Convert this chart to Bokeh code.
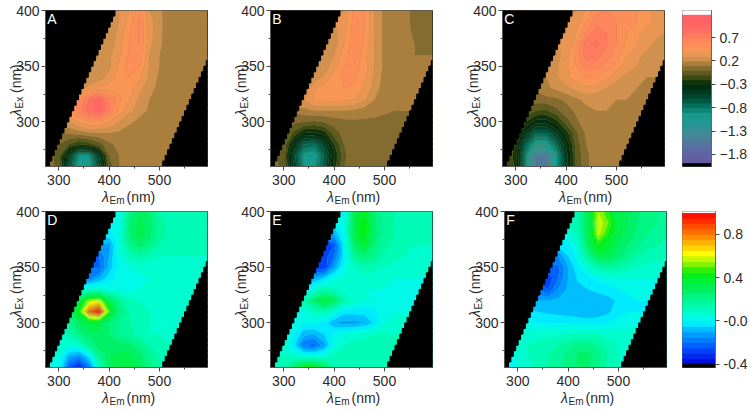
import numpy as np
from bokeh.embed import file_html
from bokeh.layouts import column, row
from bokeh.models import FixedTicker, Label
from bokeh.plotting import figure
from bokeh.resources import INLINE

em = [280, 300, 320, 340, 360, 380, 400, 420, 440, 460, 480, 500, 520, 540, 560, 580, 600]
ex = [400, 390, 380, 370, 360, 350, 340, 330, 320, 310, 300, 290, 280, 270, 260]

panel_a = [
    [.2, .2, .2, .2, .2, .2, .25, .3, .4, .55, .3, .22, .15, .12, .12, .12, .12],
    [.2, .2, .2, .2, .2, .2, .25, .3, .45, .62, .35, .22, .15, .12, .12, .12, .12],
    [.2, .2, .2, .2, .2, .2, .25, .32, .5, .62, .35, .22, .15, .12, .12, .12, .12],
    [.2, .2, .2, .2, .2, .2, .25, .35, .5, .6, .33, .22, .14, .12, .12, .12, .12],
    [.2, .2, .2, .2, .2, .2, .28, .38, .52, .56, .3, .2, .13, .12, .12, .12, .12],
    [.2, .2, .2, .2, .2, .22, .28, .42, .55, .5, .3, .2, .13, .12, .12, .12, .12],
    [.2, .2, .2, .2, .2, .25, .33, .45, .5, .42, .27, .18, .12, .12, .12, .12, .12],
    [.25, .25, .25, .25, .35, .42, .45, .48, .45, .33, .24, .16, .12, .12, .12, .12, .12],
    [.5, .5, .5, .6, .8, .95, .7, .52, .4, .28, .2, .14, .12, .12, .12, .12, .12],
    [.5, .5, .5, .65, .85, .95, .7, .45, .33, .25, .18, .13, .12, .12, .12, .12, .12],
    [.3, .3, .3, .4, .5, .5, .4, .3, .22, .17, .14, .12, .12, .12, .12, .12, .12],
    [.1, .1, .12, .15, .18, .2, .2, .18, .15, .13, .12, .12, .12, .12, .12, .12, .12],
    [.05, 0, -.1, -.2, -.15, -.05, .08, .13, .13, .12, .12, .12, .12, .12, .12, .12, .12],
    [.05, -.05, -.5, -.9, -.9, -.5, 0, .1, .12, .12, .12, .12, .12, .12, .12, .12, .12],
    [.05, -.05, -.6, -1.0, -1.0, -.6, -.05, .1, .12, .12, .12, .12, .12, .12, .12, .12, .12],
]
panel_b = [
    [.3, .3, .3, .3, .3, .3, .3, .3, .55, .5, .3, .17, .14, .12, .08, .05, .05],
    [.3, .3, .3, .3, .3, .3, .3, .32, .55, .5, .3, .17, .14, .12, .08, .05, .05],
    [.25, .25, .25, .25, .25, .25, .25, .38, .58, .5, .3, .17, .14, .12, .09, .07, .06],
    [.25, .25, .25, .25, .25, .25, .25, .4, .58, .48, .3, .17, .14, .12, .1, .08, .07],
    [.2, .2, .2, .2, .2, .2, .3, .45, .58, .45, .3, .17, .14, .12, .1, .1, .1],
    [.25, .25, .25, .25, .25, .25, .35, .5, .55, .45, .3, .17, .14, .12, .11, .11, .11],
    [.25, .25, .25, .25, .25, .32, .45, .52, .52, .42, .28, .16, .13, .12, .12, .12, .12],
    [.22, .22, .22, .22, .38, .45, .5, .5, .48, .38, .25, .15, .12, .12, .12, .12, .12],
    [.3, .3, .3, .3, .42, .45, .45, .42, .4, .32, .2, .14, .12, .12, .12, .12, .12],
    [.12, .12, .12, .17, .2, .2, .2, .2, .18, .15, .13, .11, .1, .1, .1, .1, .1],
    [.05, .05, .02, 0, -.02, 0, .04, .07, .08, .08, .08, .08, .08, .08, .08, .08, .08],
    [.05, .03, -.12, -.3, -.32, -.25, -.05, .04, .07, .08, .08, .08, .08, .08, .08, .08, .08],
    [.03, 0, -.4, -.7, -.75, -.55, -.2, 0, .06, .08, .08, .08, .08, .08, .08, .08, .08],
    [.02, -.05, -.55, -.95, -1.0, -.7, -.3, -.02, .06, .08, .08, .08, .08, .08, .08, .08, .08],
    [.02, -.02, -.5, -.9, -.95, -.65, -.25, 0, .06, .08, .08, .08, .08, .08, .08, .08, .08],
]
panel_c = [
    [.3, .3, .3, .3, .3, .3, .3, .3, .42, .55, .6, .6, .55, .5, .42, .38, .35],
    [.3, .3, .3, .3, .3, .3, .3, .35, .5, .66, .65, .6, .55, .5, .42, .38, .35],
    [.3, .3, .3, .3, .3, .3, .3, .4, .62, .76, .7, .6, .5, .42, .38, .32, .3],
    [.3, .3, .3, .3, .3, .3, .32, .45, .78, .82, .72, .6, .48, .4, .33, .28, .25],
    [.25, .25, .25, .25, .25, .25, .35, .55, .75, .76, .65, .55, .42, .33, .28, .24, .22],
    [.25, .25, .25, .25, .25, .28, .38, .5, .65, .65, .55, .45, .35, .3, .25, .22, .2],
    [.2, .2, .2, .2, .2, .28, .38, .45, .5, .5, .42, .33, .27, .23, .2, .2, .2],
    [.12, .12, .12, .12, .18, .22, .27, .33, .38, .35, .3, .25, .22, .2, .2, .2, .2],
    [.05, .05, .05, .05, .06, .08, .12, .18, .23, .23, .22, .2, .2, .2, .2, .2, .2],
    [0, 0, -.02, -.1, -.12, -.03, .06, .12, .17, .2, .2, .2, .2, .2, .2, .2, .2],
    [0, 0, -.2, -.35, -.35, -.25, -.05, .08, .15, .2, .2, .2, .2, .2, .2, .2, .2],
    [-.05, -.1, -.45, -.7, -.7, -.5, -.25, -.02, .12, .18, .2, .2, .2, .2, .2, .2, .2],
    [-.1, -.2, -.7, -1.0, -1.0, -.75, -.4, -.05, .1, .17, .2, .2, .2, .2, .2, .2, .2],
    [-.1, -.25, -.85, -1.5, -1.5, -.95, -.45, -.08, .08, .15, .2, .2, .2, .2, .2, .2, .2],
    [-.1, -.22, -.85, -1.55, -1.6, -.95, -.45, -.08, .08, .15, .2, .2, .2, .2, .2, .2, .2],
]
panel_d = [
    [0, 0, 0, 0, 0, 0, 0, .02, .22, .3, .25, .15, .12, .12, .12, .12, .12],
    [0, 0, 0, 0, 0, 0, 0, .03, .25, .32, .28, .17, .13, .12, .12, .12, .12],
    [0, 0, 0, 0, 0, 0, -.02, .05, .25, .33, .28, .18, .14, .13, .13, .13, .13],
    [-.1, -.1, -.1, -.1, -.1, -.1, -.12, .05, .2, .28, .22, .15, .13, .12, .12, .12, .12],
    [-.2, -.2, -.2, -.2, -.2, -.2, -.1, .04, .12, .15, .13, .1, .1, .1, .1, .1, .1],
    [-.2, -.2, -.2, -.2, -.2, -.22, -.08, .02, .05, .07, .07, .06, .06, .06, .06, .06, .06],
    [-.15, -.15, -.15, -.15, -.18, -.1, -.02, .02, .03, .04, .05, .05, .05, .05, .05, .05, .05],
    [.05, .05, .05, .05, .1, .08, .04, .03, .03, .05, .06, .06, .06, .06, .06, .06, .06],
    [.3, .3, .3, .35, .55, .6, .35, .2, .12, .1, .08, .08, .08, .08, .08, .08, .08],
    [.25, .25, .25, .45, .85, .98, .5, .25, .15, .12, .1, .1, .1, .1, .1, .1, .1],
    [.1, .1, .2, .3, .35, .35, .25, .2, .15, .12, .1, .1, .1, .1, .1, .1, .1],
    [.08, .08, .15, .22, .28, .3, .25, .2, .17, .13, .1, .1, .1, .1, .1, .1, .1],
    [.07, .07, .05, .08, .2, .28, .3, .28, .27, .22, .15, .12, .1, .1, .1, .1, .1],
    [.05, .05, -.1, -.15, -.02, .2, .3, .32, .32, .28, .2, .15, .12, .1, .1, .1, .1],
    [.05, .05, -.25, -.38, -.2, .1, .27, .33, .33, .3, .22, .15, .12, .1, .1, .1, .1],
]
panel_e = [
    [0, 0, 0, 0, 0, 0, 0, .02, .3, .42, .25, .18, .15, .14, .12, .12, .12],
    [0, 0, 0, 0, 0, 0, 0, .03, .35, .45, .27, .18, .15, .14, .12, .12, .12],
    [-.1, -.1, -.1, -.1, -.1, -.1, -.1, .02, .35, .45, .28, .18, .15, .13, .12, .12, .12],
    [-.25, -.25, -.25, -.25, -.25, -.25, -.25, 0, .28, .38, .25, .17, .14, .13, .1, .1, .1],
    [-.28, -.28, -.28, -.28, -.28, -.28, -.2, -.02, .2, .25, .2, .14, .12, .1, .08, .08, .08],
    [-.3, -.3, -.3, -.3, -.3, -.3, -.12, .02, .1, .13, .12, .1, .08, .06, .06, .06, .06],
    [-.1, -.1, -.1, -.1, -.1, -.05, .03, .05, .07, .08, .07, .06, .05, .05, .05, .05, .05],
    [0, 0, 0, 0, .05, .15, .12, .07, .05, .05, .05, .05, .05, .05, .05, .05, .05],
    [.15, .15, .15, .15, .28, .38, .32, .15, .08, .06, .05, .05, .05, .05, .05, .05, .05],
    [.03, .03, .03, .05, .1, .12, .05, -.03, -.03, -.03, -.02, .04, .05, .05, .05, .05, .05],
    [.05, .05, .02, 0, .02, -.02, -.1, -.12, -.12, -.1, -.04, .05, .08, .08, .08, .08, .08],
    [.08, .08, 0, -.08, -.1, -.05, .02, .05, .07, .08, .1, .1, .1, .1, .1, .1, .1],
    [.08, .08, -.03, -.2, -.22, -.12, .03, .1, .12, .12, .12, .12, .12, .12, .12, .12, .12],
    [.1, .1, .08, .05, .05, .06, .1, .14, .14, .14, .14, .14, .14, .14, .14, .14, .14],
    [.12, .12, .3, .45, .45, .32, .15, .14, .14, .14, .14, .14, .14, .14, .14, .14, .14],
]
panel_f = [
    [.15, .15, .15, .15, .15, .15, .15, .15, .35, .55, .45, .32, .3, .25, .22, .2, .18],
    [.15, .15, .15, .15, .15, .15, .15, .15, .35, .6, .5, .33, .3, .25, .22, .2, .18],
    [.05, .05, .05, .05, .05, .05, .05, .12, .33, .58, .45, .33, .28, .23, .2, .18, .15],
    [-.03, -.03, -.03, -.03, -.03, -.03, -.03, .08, .3, .45, .38, .3, .25, .2, .17, .15, .13],
    [-.15, -.15, -.15, -.15, -.15, -.15, -.05, .03, .2, .33, .32, .27, .2, .15, .13, .12, .1],
    [-.2, -.2, -.2, -.2, -.2, -.22, -.1, -.01, .07, .15, .17, .15, .12, .1, .08, .08, .08],
    [-.28, -.28, -.28, -.28, -.3, -.2, -.1, -.04, -.01, .01, .03, .05, .05, .05, .05, .05, .05],
    [-.2, -.2, -.2, -.2, -.25, -.15, -.09, -.07, -.05, -.03, -.02, 0, .01, .02, .02, .02, .02],
    [-.1, -.1, -.1, -.1, -.1, -.09, -.09, -.09, -.09, -.09, -.07, -.04, -.01, 0, 0, 0, 0],
    [-.03, -.03, -.03, -.05, -.06, -.07, -.08, -.09, -.1, -.09, -.06, -.02, 0, 0, 0, 0, 0],
    [.02, .02, .02, 0, 0, 0, 0, -.01, -.02, -.01, 0, .02, .02, .02, .02, .02, .02],
    [.08, .08, .08, .08, .08, .08, .1, .1, .1, .1, .08, .08, .08, .08, .08, .08, .08],
    [.08, .08, .1, .12, .13, .15, .18, .22, .22, .18, .13, .1, .1, .1, .1, .1, .1],
    [.05, .05, .1, .13, .15, .18, .22, .27, .27, .22, .15, .1, .1, .1, .1, .1, .1],
    [.05, .05, .08, .12, .15, .18, .22, .25, .25, .2, .13, .1, .1, .1, .1, .1, .1],
]

top_levels = [round(-2.0 + 0.1 * i, 1) for i in range(33)]
top_anchor_v = [-2.0, -1.7, -1.4, -1.15, -.95, -.7, -.5, -.3, -.15, 0, .1, .2, .3, .45, .7, .9, 1.2]
top_anchor_c = [(100, 90, 160), (95, 105, 165), (70, 135, 150), (40, 150, 150), (20, 155, 140),
                (0, 100, 80), (0, 60, 35), (0, 40, 10), (60, 75, 20), (115, 100, 40),
                (150, 115, 55), (190, 140, 70), (225, 150, 85), (250, 150, 85), (255, 130, 95),
                (255, 105, 100), (255, 95, 100)]
top_ticks = [-1.8, -1.3, -0.8, -0.3, 0.2, 0.7]

bot_levels = [round(-0.4 + 0.05 * i, 2) for i in range(29)]
bot_anchor_v = [-.4, -.25, -.1, -.02, .05, .15, .3, .45, .5, .62, .75, .9, 1.0]
bot_anchor_c = [(0, 0, 220), (0, 80, 255), (0, 170, 255), (0, 240, 255), (0, 255, 220),
                (0, 250, 170), (0, 240, 90), (0, 240, 10), (100, 240, 0), (255, 255, 0),
                (255, 160, 0), (255, 60, 0), (255, 0, 0)]
bot_ticks = [-0.4, 0.0, 0.4, 0.8]
bot_tick_labels = {-0.4: "-0.4", 0.0: "-0.0", 0.4: "0.4", 0.8: "0.8"}

FONT = "Liberation Sans"
INK = "#2b2b2b"
TICK_SIZE = "14px"
X_RANGE = (273.6, 595.3)
Y_RANGE = (260, 400)
NM_PER_PX_X = (X_RANGE[1] - X_RANGE[0]) / 162
NM_PER_PX_Y = (Y_RANGE[1] - Y_RANGE[0]) / 156
# the side labels make the side panels this big, the margins pull the extra back
PANEL_LEFT = 82
PANEL_BOTTOM = 68


def band_colors(levels, anchor_v, anchor_c):
    mids = (np.array(levels[:-1]) + np.array(levels[1:])) / 2
    chan = [np.interp(mids, anchor_v, [c[i] for c in anchor_c]) for i in range(3)]
    return ["#%02x%02x%02x" % (int(r), int(g), int(b)) for r, g, b in zip(*chan)]


# dx, dy: pixels from the lower left corner of the frame
# labels outside the frame get clipped unless they go in a side panel
def add_text(p, text, dx, dy, size, side, angle=0, style="normal"):
    label = Label(x=X_RANGE[0] + dx * NM_PER_PX_X, y=Y_RANGE[0] + dy * NM_PER_PX_Y,
                  text=text, angle=angle,
                  text_font=FONT, text_font_size=size, text_font_style=style,
                  text_color=INK, text_baseline="alphabetic")
    p.add_layout(label, side)


def panel(z, letter, levels, colors, under, left, right, top, bottom):
    p = figure(width=PANEL_LEFT + 162 + right, height=top + 156 + PANEL_BOTTOM,
               x_range=X_RANGE, y_range=Y_RANGE, tools="",
               toolbar_location=None, output_backend="svg",
               min_border_left=PANEL_LEFT, min_border_right=right,
               min_border_top=top, min_border_bottom=PANEL_BOTTOM,
               background_fill_color=under, border_fill_color=None,
               margin=(0, 0, bottom - PANEL_BOTTOM, left - PANEL_LEFT))
    p.grid.visible = False
    p.outline_line_color = "#555555"
    p.contour(em, ex[::-1], np.array(z)[::-1], levels, fill_color=colors)

    # black staircase where there is no data
    steps = np.arange(260, 400, 5)
    edge_l = 279 + 0.964 * (steps + 2.5 - 260)
    edge_r = 504 + 0.96 * (steps + 2.5 - 260)
    p.quad(left=273, right=edge_l, bottom=steps, top=steps + 5, color="black")
    p.quad(left=edge_r, right=596, bottom=steps, top=steps + 5, color="black")

    p.add_layout(Label(x=277, y=392, text=letter, text_color="white", text_font=FONT,
                       text_font_size="14px", text_baseline="middle"))

    for ax in (p.xaxis[0], p.yaxis[0]):
        ax.major_label_text_font = FONT
        ax.major_label_text_font_size = TICK_SIZE
        ax.major_label_text_color = INK
        ax.axis_line_color = "#555555"
        ax.major_tick_line_color = "#444444"
        ax.minor_tick_line_color = "#444444"
        ax.major_tick_in = 0
        ax.major_tick_out = 4
        ax.minor_tick_in = 0
        ax.minor_tick_out = 2
    p.xaxis.ticker = FixedTicker(ticks=[300, 400, 500], minor_ticks=[350, 450, 550])
    p.yaxis.ticker = FixedTicker(ticks=[300, 350, 400], minor_ticks=[275, 325, 375])
    p.xaxis.major_label_standoff = 4
    p.yaxis.major_label_standoff = 2

    add_text(p, "\u03bb", 56.5, -30.5, TICK_SIZE, "below", style="italic")
    add_text(p, "Em", 64, -34, "10px", "below")
    add_text(p, "(nm)", 81, -30.5, TICK_SIZE, "below")
    add_text(p, "\u03bb", -29.5, 50.5, TICK_SIZE, "left", angle=np.pi / 2, style="italic")
    add_text(p, "Ex", -26.5, 58, "10px", "left", angle=np.pi / 2)
    add_text(p, "(nm)", -29.5, 73.5, TICK_SIZE, "left", angle=np.pi / 2)
    return p


def bar(levels, colors, ticks, y_start, y_end, top, bottom, labels=None):
    # same bottom border as the panels, a row lines up the frames of its figures
    p = figure(width=78, height=top + 156 + PANEL_BOTTOM, x_range=(0, 1), y_range=(y_start, y_end),
               x_axis_location=None, y_axis_location="right", tools="",
               toolbar_location=None, output_backend="svg", border_fill_color=None,
               min_border_left=10, min_border_right=35, min_border_top=top,
               min_border_bottom=PANEL_BOTTOM, margin=(0, 0, bottom - PANEL_BOTTOM, 0))
    p.grid.visible = False
    p.outline_line_color = "#666666"
    p.quad(left=0, right=1, bottom=levels[:-1], top=levels[1:], color=colors)
    p.quad(left=0, right=1, bottom=y_start, top=levels[0], color="black")
    p.quad(left=0, right=1, bottom=levels[-1], top=y_end, color="white")
    ax = p.yaxis[0]
    ax.ticker = FixedTicker(ticks=ticks)
    ax.minor_tick_line_color = None
    ax.major_tick_in = 0
    ax.major_tick_out = 4
    ax.major_label_standoff = 4
    ax.major_label_text_font = FONT
    ax.major_label_text_font_size = TICK_SIZE
    ax.major_label_text_color = INK
    ax.axis_line_color = "#666666"
    ax.major_tick_line_color = "#444444"
    if labels:
        ax.major_label_overrides = labels
    return p


top_colors = band_colors(top_levels, top_anchor_v, top_anchor_c)
bot_colors = band_colors(bot_levels, bot_anchor_v, bot_anchor_c)
BROWN = "#a07c41"
MINT = "#00f0d0"

row1 = row(
    panel(panel_a, "A", top_levels, top_colors, BROWN, 45, 18, 10, 37),
    panel(panel_b, "B", top_levels, top_colors, BROWN, 45, 30, 10, 37),
    panel(panel_c, "C", top_levels, top_colors, BROWN, 40, 8, 10, 37),
    bar(top_levels, top_colors, top_ticks, -2.06, 1.28, 10, 37),
)
row2 = row(
    panel(panel_d, "D", bot_levels, bot_colors, MINT, 45, 18, 8, 44),
    panel(panel_e, "E", bot_levels, bot_colors, MINT, 45, 30, 8, 44),
    panel(panel_f, "F", bot_levels, bot_colors, MINT, 42, 6, 8, 44),
    bar(bot_levels, bot_colors, bot_ticks, -0.43, 1.01, 8, 44, bot_tick_labels),
)
layout = column(row1, row2)

open("out.html", "w").write(file_html(layout, INLINE))
